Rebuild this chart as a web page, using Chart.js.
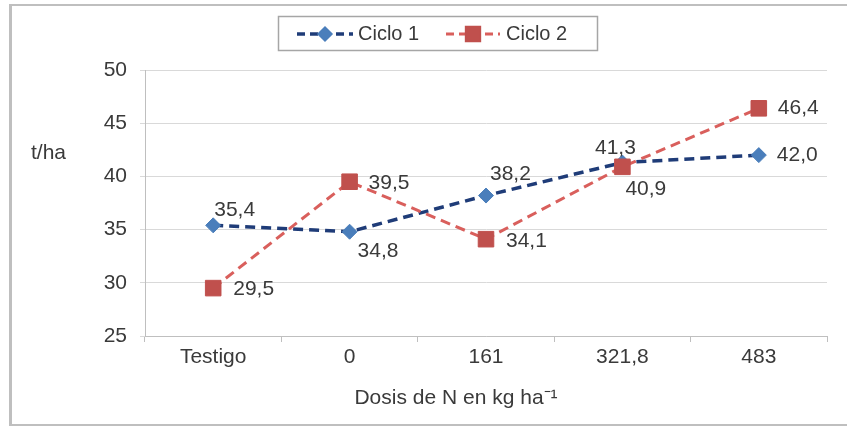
<!DOCTYPE html>
<html>
<head>
<meta charset="utf-8">
<script src="https://cdn.jsdelivr.net/npm/chart.js@4/dist/chart.umd.min.js"></script>
<style>
  html, body { margin: 0; padding: 0; background: #ffffff; }
  #wrap { width: 847px; height: 426px; }
</style>
</head>
<body>
<div id="wrap"><canvas id="c" width="847" height="426"></canvas></div>
<script>
// Rendimiento (t/ha) por dosis de nitrógeno, dos ciclos
const categories = ['Testigo', '0', '161', '321,8', '483'];
const ciclo1 = [35.4, 34.8, 38.2, 41.3, 42.0];
const ciclo2 = [29.5, 39.5, 34.1, 40.9, 46.4];
const yMin = 25, yMax = 50, yStep = 5;
const seriesNames = ['Ciclo 1', 'Ciclo 2'];
const yTitle = 't/ha';
const xTitle = 'Dosis de N en kg ha\u207B\u00B9';

const FONT = 'Liberation Sans, Arial, sans-serif';
const TEXT = '#3A3A3A';
const C1_LINE = '#1F3C78', C1_MARK = '#4A7EBB';
const C2_LINE = '#D95F5C', C2_MARK = '#C0504D';

const fmt = v => v.toFixed(1).replace('.', ',');

// where each value label sits relative to its point
const labelPlacement = [
  [ {dx: 1, dy: -15, align: 'left'}, {dx: 8, dy: 19, align: 'left'}, {dx: 4, dy: -21, align: 'left'},
    {dx: -7, dy: -14, align: 'center'}, {dx: 18, dy: 0, align: 'left'} ],
  [ {dx: 20, dy: 1, align: 'left'}, {dx: 19, dy: 1, align: 'left'}, {dx: 20, dy: 2, align: 'left'},
    {dx: 3, dy: 22, align: 'left'}, {dx: 19, dy: 0, align: 'left'} ]
];

const decorations = {
  id: 'decorations',
  beforeDraw(chart) {
    const ctx = chart.ctx;
    ctx.save();
    ctx.fillStyle = '#ffffff';
    ctx.fillRect(0, 0, chart.width, chart.height);
    // outer frame
    ctx.fillStyle = '#BFBFBF';
    ctx.fillRect(9, 4, 838, 2);
    ctx.fillRect(9, 4, 3, 422);
    ctx.fillRect(9, 424, 838, 2);
    ctx.restore();
  },
  afterDraw(chart) {
    const ctx = chart.ctx;
    ctx.save();
    // axis titles
    ctx.fillStyle = TEXT;
    ctx.font = '21px ' + FONT;
    ctx.textBaseline = 'middle';
    ctx.textAlign = 'left';
    ctx.fillText(yTitle, 31, 153);
    ctx.textAlign = 'center';
    ctx.fillText(xTitle, 456, 398);

    // legend box
    ctx.strokeStyle = '#A6A6A6';
    ctx.lineWidth = 1.5;
    ctx.strokeRect(278.5, 16.5, 319, 34);
    const items = [
      {x0: 297, x1: 353, mx: 325, tx: 358, line: C1_LINE, mark: C1_MARK, style: 'rectRot', r: 7, w: 3.5},
      {x0: 446, x1: 500, mx: 473, tx: 506, line: C2_LINE, mark: C2_MARK, style: 'rect', r: 10.5, w: 3}
    ];
    const ly = 34;
    items.forEach((it, i) => {
      ctx.save();
      ctx.strokeStyle = it.line;
      ctx.lineWidth = it.w;
      ctx.setLineDash([8, 5]);
      ctx.beginPath();
      ctx.moveTo(it.x0, ly);
      ctx.lineTo(it.x1, ly);
      ctx.stroke();
      ctx.restore();
      ctx.fillStyle = it.mark;
      ctx.strokeStyle = it.mark;
      Chart.helpers.drawPoint(ctx, {pointStyle: it.style, radius: it.r, borderWidth: 1, rotation: 0}, it.mx, ly);
      ctx.fillStyle = TEXT;
      ctx.font = '20px ' + FONT;
      ctx.textAlign = 'left';
      ctx.textBaseline = 'middle';
      ctx.fillText(seriesNames[i], it.tx, ly);
    });
    ctx.restore();
  },
  afterDatasetsDraw(chart) {
    const ctx = chart.ctx;
    ctx.save();
    ctx.fillStyle = TEXT;
    ctx.font = '21px ' + FONT;
    ctx.textBaseline = 'middle';
    chart.data.datasets.forEach((ds, di) => {
      const meta = chart.getDatasetMeta(di);
      meta.data.forEach((pt, i) => {
        const p = labelPlacement[di][i];
        ctx.textAlign = p.align;
        ctx.fillText(fmt(ds.data[i]), pt.x + p.dx, pt.y + p.dy);
      });
    });
    ctx.restore();
  }
};

new Chart(document.getElementById('c'), {
  type: 'line',
  data: {
    labels: categories,
    datasets: [
      {
        label: seriesNames[0],
        data: ciclo1,
        order: 1,
        borderColor: C1_LINE,
        borderWidth: 3.5,
        borderDash: [10, 6],
        tension: 0,
        fill: false,
        pointStyle: 'rectRot',
        pointRadius: 7.5,
        pointHoverRadius: 7.5,
        pointBackgroundColor: C1_MARK,
        pointBorderColor: C1_MARK,
        pointBorderWidth: 1
      },
      {
        label: seriesNames[1],
        data: ciclo2,
        order: 0,
        borderColor: C2_LINE,
        borderWidth: 3,
        borderDash: [10, 6],
        tension: 0,
        fill: false,
        pointStyle: 'rect',
        pointRadius: 11,
        pointHoverRadius: 11,
        pointBackgroundColor: C2_MARK,
        pointBorderColor: C2_MARK,
        pointBorderWidth: 1
      }
    ]
  },
  options: {
    responsive: false,
    animation: false,
    events: [],
    layout: { padding: { top: 70, right: 20, bottom: 0, left: 0 } },
    plugins: {
      legend: { display: false },
      tooltip: { enabled: false },
      title: { display: false }
    },
    scales: {
      x: {
        type: 'category',
        offset: true,
        grid: {
          offset: true,
          drawOnChartArea: false,
          drawTicks: true,
          tickLength: 6,
          color: '#BFBFBF',
          lineWidth: 1
        },
        border: { display: true, color: '#BFBFBF', width: 1 },
        ticks: {
          color: TEXT,
          font: { family: FONT, size: 21 },
          padding: 3,
          autoSkip: false,
          maxRotation: 0
        },
        afterFit(scale) { scale.height = 90; }
      },
      y: {
        min: yMin,
        max: yMax,
        grid: {
          color: '#D9D9D9',
          lineWidth: 1,
          drawTicks: true,
          tickLength: 5
        },
        border: { display: true, color: '#BFBFBF', width: 1 },
        ticks: {
          stepSize: yStep,
          color: TEXT,
          font: { family: FONT, size: 21 },
          padding: 13,
          callback: v => String(v)
        },
        afterFit(scale) { scale.width = 145; }
      }
    }
  },
  plugins: [decorations]
});
</script>
</body>
</html>
